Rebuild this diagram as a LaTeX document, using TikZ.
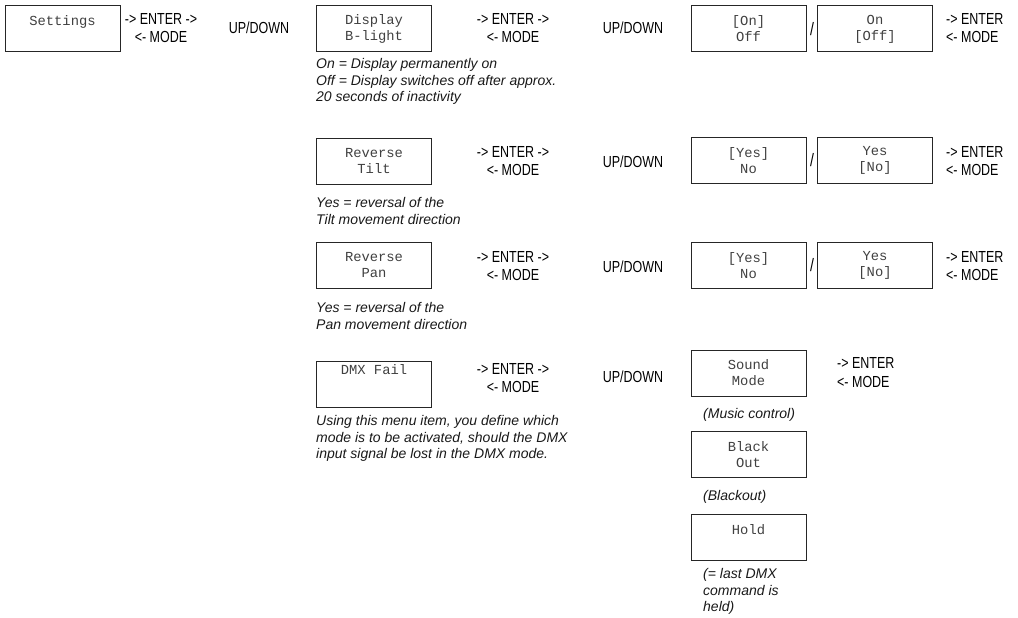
\documentclass[tikz,border=0pt]{standalone}
\usepackage{fontspec}
\setmainfont{Liberation Sans}
\newfontfamily\lcdfont{Liberation Mono}
\newfontfamily\condfont[FakeStretch=0.78]{Liberation Sans}
\newfontfamily\capfont{Liberation Sans}
\begin{document}
\begin{tikzpicture}[x=1pt,y=-1pt,
  lcd/.style={draw=black!85,line width=1pt,minimum width=115pt,minimum height=46pt,inner sep=0pt,align=center,
    font=\lcdfont\fontsize{13.8}{16}\selectfont,text=black!75},
  keys/.style={font=\condfont\fontsize{16}{18.5}\selectfont,align=center,inner sep=0pt,text=black},
  keysl/.style={keys,align=left,anchor=west},
  slash/.style={font=\condfont\fontsize{18}{18}\selectfont,inner sep=0pt},
  captxt/.style={font=\capfont\itshape\fontsize{14}{16.5}\selectfont,align=left,anchor=north west,inner sep=0pt,text=black!90}]
\useasboundingbox (0,0) rectangle (1018,618);
% row 1
\node[lcd] (set) at (62.5,28.5) {Settings\\\mbox{}};
\node[keys] (k0) at (161,28) {-> ENTER ->\\<- MODE};
\node[keys] (u0) at (259,28) {UP/DOWN};
\node[lcd] (disp) at (374,28.5) {Display\\B-light};
\node[keys] (k1) at (513,28) {-> ENTER ->\\<- MODE};
\node[keys] (u1) at (633,28) {UP/DOWN};
\node[lcd] (on1) at (748.5,29) {[On]\\Off};
\node[slash] (s1) at (812,29) {/};
\node[lcd] (on2) at (875,29) {On\\{[Off]}};
\node[keysl] (e1) at (946,28) {-> ENTER\\<- MODE};
\node[captxt] (c1) at (316,58.5) {On = Display permanently on\\Off = Display switches off after approx.\\20 seconds of inactivity};
% row 2
\node[lcd] (tilt) at (374,161) {Reverse\\Tilt};
\node[keys] (k2) at (513,161) {-> ENTER ->\\<- MODE};
\node[keys] (u2) at (633,162) {UP/DOWN};
\node[lcd] (ty1) at (748.5,160.5) {[Yes]\\No};
\node[slash] (s2) at (812,160.5) {/};
\node[lcd] (ty2) at (875,160.5) {Yes\\{[No]}};
\node[keysl] (e2) at (946,161) {-> ENTER\\<- MODE};
\node[captxt] (c2) at (316,197.5) {Yes = reversal of the\\Tilt movement direction};
% row 3
\node[lcd] (pan) at (374,265.5) {Reverse\\Pan};
\node[keys] (k3) at (513,266) {-> ENTER ->\\<- MODE};
\node[keys] (u3) at (633,267) {UP/DOWN};
\node[lcd] (py1) at (748.5,265.5) {[Yes]\\No};
\node[slash] (s3) at (812,265.5) {/};
\node[lcd] (py2) at (875,265.5) {Yes\\{[No]}};
\node[keysl] (e3) at (946,266) {-> ENTER\\<- MODE};
\node[captxt] (c3) at (316,302.5) {Yes = reversal of the\\Pan movement direction};
% row 4
\node[lcd] (dmx) at (374,384.5) {DMX Fail\\[14pt]\mbox{}};
\node[keys] (k4) at (513,378) {-> ENTER ->\\<- MODE};
\node[keys] (u4) at (633,377) {UP/DOWN};
\node[captxt] (c4) at (316,415.5) {Using this menu item, you define which\\mode is to be activated, should the DMX\\input signal be lost in the DMX mode.};
\node[lcd] (snd) at (748.5,373) {Sound\\Mode};
\node[keysl] (e4) at (837,372.5) {-> ENTER\\<- MODE};
\node[captxt] (c5) at (703,408.5) {(Music control)};
\node[lcd] (blk) at (748.5,454.5) {Black\\Out};
\node[captxt] (c6) at (703,490.5) {(Blackout)};
\node[lcd] (hold) at (748.5,537) {Hold\\\mbox{}};
\node[captxt] (c7) at (703,568.5) {(= last DMX\\command is\\held)};
\end{tikzpicture}
\end{document}
